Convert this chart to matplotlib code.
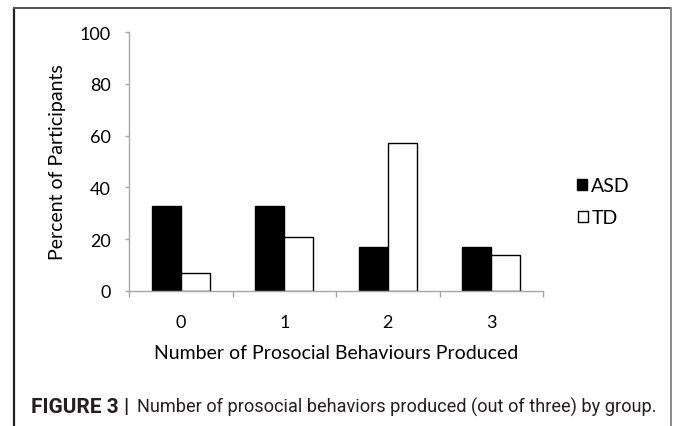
import matplotlib
matplotlib.use("Agg")
import matplotlib.pyplot as plt
from matplotlib.lines import Line2D

categories = ["0", "1", "2", "3"]
asd = [33, 33, 17, 17]
td = [7, 21, 57, 14]
series_names = ["ASD", "TD"]
yticks = [0, 20, 40, 60, 80, 100]
xlabel = "Number of Prosocial Behaviours Produced"
ylabel = "Percent of Participants"
caption_bold = "FIGURE 3 |"
caption_rest = "Number of prosocial behaviors produced (out of three) by group."

W, H = 673, 427
fig = plt.figure(figsize=(W / 100, H / 100), dpi=100)
plt.rcParams["font.family"] = ["Lato", "DejaVu Sans"]

# outer frame
fig.add_artist(Line2D([14 / W, 14 / W], [0, 1 - 9 / H], transform=fig.transFigure, color="#222222", lw=1.6))
fig.add_artist(Line2D([14 / W, 671 / W], [1 - 9 / H, 1 - 9 / H], transform=fig.transFigure, color="#555555", lw=1.4))
fig.add_artist(Line2D([671 / W, 671 / W], [0, 1 - 9 / H], transform=fig.transFigure, color="#888888", lw=1.4))

left, right, top, bottom = 129, 543, 33, 292
aw, ah = right - left, bottom - top
ax = fig.add_axes([left / W, 1 - bottom / H, aw / W, ah / H])

x = list(range(len(categories)))
bw = 0.28
b1 = ax.bar([i - bw / 2 for i in x], asd, width=bw, color="black", edgecolor="black", linewidth=1)
b2 = ax.bar([i + bw / 2 for i in x], td, width=bw, color="white", edgecolor="black", linewidth=1)

ax.set_xlim(-0.5, len(categories) - 0.5)
ax.set_ylim(0, 100)
ax.set_yticks(yticks)
ax.set_yticklabels([str(v) for v in yticks], fontsize=13)
ax.set_xticks(x)
ax.set_xticklabels(categories, fontsize=13)
ax.set_xticks([i - 0.5 for i in range(len(categories) + 1)], minor=True)
ax.tick_params(axis="x", which="major", length=0, pad=16.5)
ax.tick_params(axis="x", which="minor", length=4, color="#a6a6a6", width=1, direction="out")
ax.tick_params(axis="y", length=3, color="#a6a6a6", width=1, pad=10)
for s in ["top", "right"]:
    ax.spines[s].set_visible(False)
for s in ["left", "bottom"]:
    ax.spines[s].set_color("#a6a6a6")
    ax.spines[s].set_linewidth(1)

ax.set_xlabel(xlabel, fontsize=14, va="baseline")
ax.xaxis.set_label_coords(0.5, (bottom - 359) / ah)
ax.set_ylabel(ylabel, fontsize=14, va="baseline")
ax.yaxis.set_label_coords((63 - left) / aw, 0.5)

# legend entries placed individually
for handle, name, (lx, ly) in zip([b1, b2], series_names, [(577, 187), (578, 219)]):
    fig.legend([handle], [name], loc="center left", bbox_to_anchor=(lx / W, 1 - ly / H),
               frameon=False, fontsize=14, borderpad=0, borderaxespad=0,
               handlelength=0.52, handleheight=0.52, handletextpad=0.18)

cap_family = ["Roboto", "Liberation Sans", "DejaVu Sans"]
fig.text(31 / W, 1 - 413 / H, caption_bold, fontsize=15, fontweight="bold",
         family=cap_family, va="baseline", color="#231f20")
fig.text(137 / W, 1 - 413 / H, caption_rest, fontsize=13.1,
         family=cap_family, va="baseline", color="#231f20")

fig.savefig("out.png", dpi=100)
